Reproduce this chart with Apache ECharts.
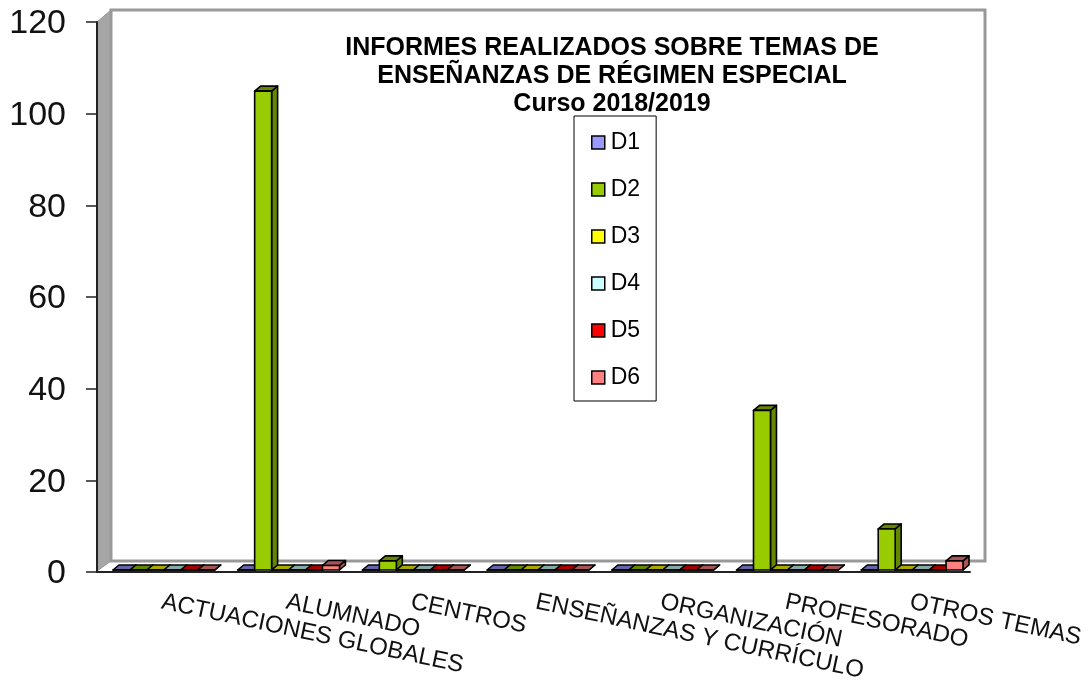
<!DOCTYPE html>
<html>
<head>
<meta charset="utf-8">
<title>Informes realizados</title>
<script src="https://cdn.jsdelivr.net/npm/echarts@6/dist/echarts.min.js"></script>
<style>
  html, body { margin: 0; padding: 0; background: #fff; }
  #main { width: 1088px; height: 680px; }
</style>
</head>
<body>
<div id="main"></div>
<script>
// datos
const categories = ["ACTUACIONES GLOBALES", "ALUMNADO", "CENTROS", "ENSEÑANZAS Y CURRÍCULO", "ORGANIZACIÓN", "PROFESORADO", "OTROS TEMAS"];
const yTicks = [0, 20, 40, 60, 80, 100, 120];
const seriesNames = ["D1", "D2", "D3", "D4", "D5", "D6"];
const d1 = [0, 0, 0, 0, 0, 0, 0];
const d2 = [0, 105, 2, 0, 0, 35, 9];
const d3 = [0, 0, 0, 0, 0, 0, 0];
const d4 = [0, 0, 0, 0, 0, 0, 0];
const d5 = [0, 0, 0, 0, 0, 0, 0];
const d6 = [0, 1, 0, 0, 0, 0, 2];
const seriesValues = [d1, d2, d3, d4, d5, d6];
const seriesColors = ["#9999ff", "#99cc00", "#ffff00", "#ccffff", "#ff0000", "#ff8080"];
const titleText = "INFORMES REALIZADOS SOBRE TEMAS DE\nENSEÑANZAS DE RÉGIMEN ESPECIAL\nCurso 2018/2019";

const font = '"Liberation Sans", Arial, sans-serif';
const depthX = 6, depthY = 5;

// oscurece un color para las caras superior y lateral
function shade(hex, k) {
  const n = parseInt(hex.slice(1), 16);
  const r = Math.round((n >> 16 & 255) * k);
  const g = Math.round((n >> 8 & 255) * k);
  const b = Math.round((n & 255) * k);
  return "rgb(" + r + "," + g + "," + b + ")";
}

// barra con aspecto 3D: frente, techo y lateral
function bar3d(seriesIndex) {
  return function (params, api) {
    const top = api.coord([api.value(0), api.value(1)]);
    const base = api.coord([api.value(0), 0]);
    const w = api.size([1, 0])[0] * 0.136;
    const x = top[0] + 4.5 + (seriesIndex - 3) * w;
    // la base de las barras queda 2px por encima del eje
    const y0 = base[1] - 2;
    const y1 = y0 - (base[1] - top[1]) * 0.995;
    const color = seriesColors[seriesIndex];
    const dark = shade(color, 0.66);
    const edge = { stroke: "#000", lineWidth: 1.6, lineJoin: "round" };
    return {
      type: "group",
      children: [
        {
          type: "polygon",
          shape: { points: [[x + w, y0], [x + w + depthX, y0 - depthY], [x + w + depthX, y1 - depthY], [x + w, y1]] },
          style: Object.assign({ fill: dark }, edge),
        },
        {
          type: "polygon",
          shape: { points: [[x, y1], [x + depthX, y1 - depthY], [x + w + depthX, y1 - depthY], [x + w, y1]] },
          style: Object.assign({ fill: dark }, edge),
        },
        {
          type: "rect",
          shape: { x: x, y: y1, width: w, height: y0 - y1 },
          style: Object.assign({ fill: color }, edge),
        },
      ],
    };
  };
}

const series = seriesNames.map(function (name, i) {
  return {
    name: name,
    type: "custom",
    clip: false,
    itemStyle: { color: seriesColors[i] },
    encode: { x: 0, y: 1 },
    data: seriesValues[i].map(function (v, c) { return [c, v]; }),
    renderItem: bar3d(i),
  };
});

const myChart = echarts.init(document.getElementById("main"));

const option = {
  animation: false,
  backgroundColor: "#fff",
  textStyle: { fontFamily: font },
  grid: { left: 97, top: 22, width: 873, height: 550, outerBoundsMode: "none" },
  title: {
    text: titleText,
    left: 612,
    top: 34,
    textAlign: "center",
    padding: 0,
    textStyle: { fontFamily: font, fontSize: 25, fontWeight: "bold", color: "#000", lineHeight: 28 },
  },
  legend: {
    data: seriesNames,
    orient: "vertical",
    left: 574,
    top: 116,
    padding: [14, 16, 11, 17],
    itemWidth: 13,
    itemHeight: 13,
    itemGap: 22,
    icon: "rect",
    borderColor: "#000",
    borderWidth: 1,
    backgroundColor: "#fff",
    itemStyle: { borderColor: "#000", borderWidth: 1.5 },
    textStyle: { fontFamily: font, fontSize: 23, color: "#000", padding: [0, 0, 0, 1], lineHeight: 25 },
    z: 10,
  },
  xAxis: {
    type: "category",
    data: categories,
    axisLine: { lineStyle: { color: "#222", width: 2 } },
    axisTick: { length: 9, lineStyle: { color: "#222", width: 1.5 }, alignWithLabel: false },
    axisLabel: {
      interval: 0,
      rotate: -12,
      align: "left",
      verticalAlign: "top",
      margin: 17,
      padding: [0, 0, 0, 5],
      hideOverlap: false,
      fontFamily: font,
      fontSize: 24,
      color: "#111",
    },
  },
  yAxis: {
    type: "value",
    min: yTicks[0],
    max: yTicks[yTicks.length - 1],
    interval: yTicks[1] - yTicks[0],
    splitLine: { show: false },
    axisLine: { show: true, lineStyle: { color: "#222", width: 2 } },
    axisTick: { show: true, length: 11, lineStyle: { color: "#222", width: 1.5 } },
    axisLabel: { fontFamily: font, fontSize: 34, color: "#111", margin: 31, verticalAlign: "top", lineHeight: 34, padding: [-15, 0, 0, 0] },
  },
  // paredes y suelo del grafico
  graphic: [
    {
      type: "polygon", z: -1,
      shape: { points: [[97, 571], [111, 561], [111, 10], [97, 22]] },
      style: { fill: "#a6a6a6", stroke: "#999", lineWidth: 1 },
    },
    {
      type: "rect", z: -1,
      shape: { x: 111, y: 10, width: 874, height: 551 },
      style: { fill: "#fff", stroke: "#999", lineWidth: 3 },
    },
  ],
  series: series,
};

myChart.setOption(option);
</script>
</body>
</html>
